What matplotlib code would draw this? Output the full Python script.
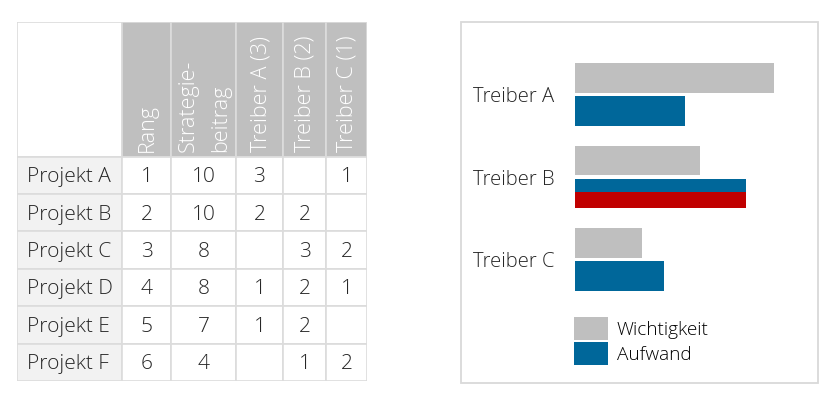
import matplotlib
matplotlib.use('Agg')
import matplotlib.pyplot as plt
from matplotlib.patches import Rectangle, Patch

plt.rcParams['font.family'] = ['Open Sans', 'DejaVu Sans']

# Tabelle
projekte = ['Projekt A', 'Projekt B', 'Projekt C', 'Projekt D', 'Projekt E', 'Projekt F']
spalten = ['Rang', 'Strategie-\nbeitrag', 'Treiber A (3)', 'Treiber B (2)', 'Treiber C (1)']
rang = [1, 2, 3, 4, 5, 6]
strategie = [10, 10, 8, 8, 7, 4]
treiber_a = [3, 2, None, 1, 1, None]
treiber_b = [None, 2, 3, 2, 2, 1]
treiber_c = [1, None, 2, 1, None, 2]

# Balken
treiber = ['Treiber A', 'Treiber B', 'Treiber C']
wichtigkeit = [3.0, 1.88, 1.01]
aufwand = [1.66, 2.58, 1.34]
markiert = [False, True, False]

W, H = 829, 396
fig = plt.figure(figsize=(W / 100, H / 100), dpi=100)
fig.patch.set_facecolor('white')

grau = '#BFBFBF'
blau = '#00679A'
rot = '#C00000'
linie = '#DCDCDC'
txt = '#262626'

# ---- Tabelle ----
ax_t = fig.add_axes([17 / W, 1 - 381 / H, 350 / W, 359 / H])
ax_t.set_xlim(0, 350)
ax_t.set_ylim(359, 0)
ax_t.axis('off')

breiten = [105, 49, 65, 47, 43, 41]
kopf = 134.5
zeile = (359 - kopf) / len(projekte)
kanten = [0]
for b in breiten:
    kanten.append(kanten[-1] + b)

# Ecke links oben
ax_t.add_patch(Rectangle((0, 0), breiten[0], kopf, facecolor='white', edgecolor=linie, lw=1.2))
for j, name in enumerate(spalten):
    x0 = kanten[j + 1]
    ax_t.add_patch(Rectangle((x0, 0), breiten[j + 1], kopf, facecolor=grau, edgecolor=linie, lw=1.2))
    ax_t.text(x0 + breiten[j + 1] / 2 + 1, kopf - 4, name, rotation=90, rotation_mode='anchor',
              ha='left', va='center', multialignment='left', color='white',
              fontsize=15.5, fontweight='light', linespacing=1.75)

werte = [rang, strategie, treiber_a, treiber_b, treiber_c]
for i, p in enumerate(projekte):
    y0 = kopf + i * zeile
    ym = y0 + zeile / 2 + 2
    ax_t.add_patch(Rectangle((0, y0), breiten[0], zeile, facecolor='#F2F2F2', edgecolor=linie, lw=1.2))
    ax_t.text(10, ym, p, ha='left', va='center', fontsize=15, color=txt, fontweight='light')
    for j, w in enumerate(werte):
        x0 = kanten[j + 1]
        ax_t.add_patch(Rectangle((x0, y0), breiten[j + 1], zeile, facecolor='white', edgecolor=linie, lw=1.2))
        if w[i] is not None:
            ax_t.text(x0 + breiten[j + 1] / 2, ym, str(w[i]), ha='center', va='center',
                      fontsize=15, color=txt, fontweight='light')

# ---- Diagramm ----
fig.add_artist(Rectangle((460.7 / W, 1 - 382.7 / H), 357 / W, 360.4 / H, transform=fig.transFigure,
                         facecolor='none', edgecolor='#D9D9D9', lw=1.3))

ax = fig.add_axes([575 / W, 1 - 301 / H, 225 / W, 247.9 / H])
pos = list(range(len(treiber)))
h = 0.36
ax.barh([p - 0.2 for p in pos], wichtigkeit, height=h, color=grau, label='Wichtigkeit')
ax.barh([p + 0.2 for p in pos], aufwand, height=h, color=blau, label='Aufwand')
for p, a, m in zip(pos, aufwand, markiert):
    if m:
        ax.barh(p + 0.2 + h / 2 - h * 0.28, a, height=h * 0.56, color=rot)
ax.set_xlim(0, 3.39)
ax.set_ylim(2.5, -0.5)
ax.set_yticks(pos)
ax.set_yticklabels(treiber, fontsize=14.6, color=txt, fontweight='light')
ax.tick_params(axis='y', length=0, pad=15)
ax.set_xticks([])
for s in ax.spines.values():
    s.set_visible(False)

handles = [Patch(facecolor=grau), Patch(facecolor=blau)]
fig.legend(handles, ['Wichtigkeit', 'Aufwand'], loc='upper left',
           bbox_to_anchor=(574 / W, 1 - 317 / H), frameon=False, borderpad=0, borderaxespad=0,
           handlelength=1.79, handleheight=1.48, labelspacing=0.1, handletextpad=0.47,
           prop={'size': 13.7, 'weight': 'light'})

fig.savefig('out.png', dpi=100)
